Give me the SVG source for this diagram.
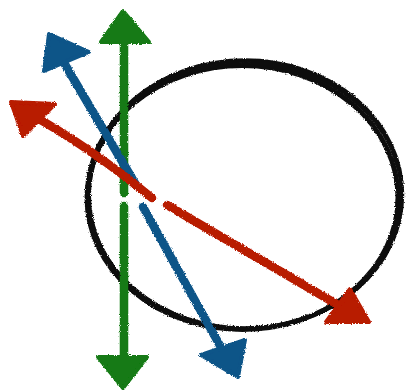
<svg xmlns="http://www.w3.org/2000/svg" width="409" height="391" viewBox="0 0 409 391">
  <defs>
    <filter id="rough" filterUnits="userSpaceOnUse" x="0" y="0" width="409" height="391">
      <feTurbulence type="fractalNoise" baseFrequency="0.9" numOctaves="2" seed="3" result="n"/>
      <feDisplacementMap in="SourceGraphic" in2="n" scale="3" xChannelSelector="R" yChannelSelector="G"/>
    </filter>
  </defs>
  <style>
    .ring { fill: none; stroke: #111; stroke-linecap: round; }
    .shaft { fill: none; stroke-width: 8.5; stroke-linecap: round; }
    .head { stroke-width: 4; stroke-linejoin: round; }
    .green { stroke: #127a12; fill: #127a12; }
    .blue { stroke: #0d5488; fill: #0d5488; }
    .red { stroke: #b81a04; fill: #b81a04; }
  </style>
  <rect width="409" height="391" fill="#ffffff"/>
  <g id="circle" filter="url(#rough)">
    <ellipse class="ring" cx="245" cy="194.5" rx="157" ry="134" stroke-width="4.5"/>
    <ellipse class="ring" cx="242.5" cy="197.5" rx="155.5" ry="132" stroke-width="5"/>
    <ellipse class="ring" cx="245.5" cy="196" rx="156" ry="132.5" stroke-width="3" stroke="#333"/>
  </g>
  <g id="connectors" filter="url(#rough)">
    <g id="green-axis" class="green">
      <path class="shaft" d="M124,38 L124,193"/>
      <path class="shaft" d="M124,206 L124,362"/>
      <polygon class="head" points="123,11 101,42 149,42"/>
      <polygon class="head" points="98,357 147,357 123,388"/>
    </g>
    <g id="blue-axis" class="blue">
      <path class="shaft" d="M60,56 L136,185"/>
      <path class="shaft" d="M143,207 L228,360"/>
      <polygon class="head" points="49,34 44,71 89,52"/>
      <polygon class="head" points="201,355 245,340 238,377"/>
    </g>
    <g id="red-axis" class="red">
      <path class="shaft" d="M30,114 Q90,147 152,198"/>
      <path class="shaft" d="M167,205 L350,312"/>
      <polygon class="head" points="11,102 55,104 23,136"/>
      <polygon class="head" points="326,322 350,289 369,322"/>
    </g>
  </g>
</svg>
